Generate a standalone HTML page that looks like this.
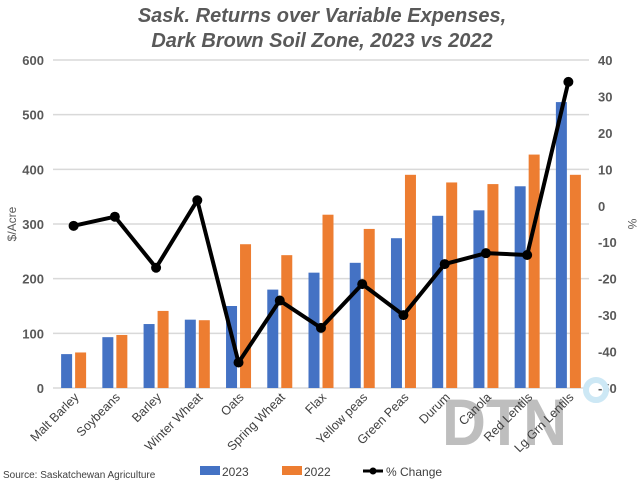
<!DOCTYPE html>
<html><head><meta charset="utf-8"><style>
body{margin:0;background:#fff;}
svg{display:block;font-family:"Liberation Sans",sans-serif;}
</style></head><body>
<svg id="c" width="640" height="480" viewBox="0 0 640 480">
<text x="322" y="22" text-anchor="middle" font-size="20" font-weight="bold" font-style="italic" fill="#595959">Sask. Returns over Variable Expenses,</text>
<text x="322" y="47" text-anchor="middle" font-size="20" font-weight="bold" font-style="italic" fill="#595959">Dark Brown Soil Zone, 2023 vs 2022</text>
<g id="grid"></g>
<text x="442" y="445" font-size="66" font-weight="bold" fill="#b3b3b3" opacity="0.85" textLength="125" lengthAdjust="spacingAndGlyphs">DTN</text>
<circle cx="596" cy="390" r="10" fill="none" stroke="#cde8f5" stroke-width="6"/>
<g id="bars"></g><g id="line"></g><g id="xl"></g>
<text transform="translate(16,224) rotate(-90)" text-anchor="middle" font-size="12" fill="#595959">$/Acre</text>
<text transform="translate(628,224) rotate(90)" text-anchor="middle" font-size="12" fill="#595959">%</text>
<text x="3" y="478" font-size="10" fill="#404040">Source: Saskatchewan Agriculture</text>
<g>
<rect x="200" y="466" width="20" height="9" fill="#4472c4"/>
<text x="222" y="476" font-size="12" fill="#404040">2023</text>
<rect x="282" y="466" width="20" height="9" fill="#ed7d31"/>
<text x="304" y="476" font-size="12" fill="#404040">2022</text>
<line x1="363" y1="471" x2="383" y2="471" stroke="#000" stroke-width="3"/>
<circle cx="373" cy="471" r="3.5" fill="#000"/>
<text x="386" y="476" font-size="12" fill="#404040">% Change</text>
</g>
</svg>
<script>
const categories=["Malt Barley","Soybeans","Barley","Winter Wheat","Oats","Spring Wheat","Flax","Yellow peas","Green Peas","Durum","Canola","Red Lentils","Lg Grn Lentils"];
const values2023=[62,93,117,125,150,180,211,229,274,315,325,369,523];
const values2022=[65,97,141,124,263,243,317,291,390,376,373,427,390];
const pctChange=[-5.5,-3,-17,1.5,-43,-26,-33.5,-21.5,-30,-16,-13,-13.5,34];
const leftTicks=[0,100,200,300,400,500,600];
const rightTicks=[40,30,20,10,0,-10,-20,-30,-40,-50];
const NS="http://www.w3.org/2000/svg";
const X0=53,X1=589,YT=60,YB=388;
const bw=(X1-X0)/categories.length;
const xc=i=>X0+bw*(i+0.5);
const yL=v=>YB-(v-0)/(600-0)*(YB-YT);
const yR=v=>YB-(v+50)/(90)*(YB-YT);
function mk(t,a,p){const e=document.createElementNS(NS,t);for(const k in a)e.setAttribute(k,a[k]);p.appendChild(e);return e;}
const grid=document.getElementById('grid');
leftTicks.forEach(v=>{
 const l=mk('line',{x1:X0,x2:X1,y1:yL(v),y2:yL(v),stroke:'#d9d9d9','stroke-width':1.5},grid);
 
 
 const t=mk('text',{x:44,y:yL(v)+5,'text-anchor':'end','font-size':13,'font-weight':'bold',fill:'#595959'},grid);
 t.textContent=v;
 
 
});
rightTicks.forEach(v=>{
 const t=mk('text',{x:598,y:yR(v)+5,'font-size':13,'font-weight':'bold',fill:'#595959'},grid);
 t.textContent=v;
 
 
});
const bars=document.getElementById('bars');
categories.forEach((c,i)=>{
 const b1=mk('rect',{x:xc(i)-12.5,y:yL(values2023[i]),width:11,height:yL(0)-yL(values2023[i]),fill:'#4472c4'},bars);
 
 
 const b2=mk('rect',{x:xc(i)+1.5,y:yL(values2022[i]),width:11,height:yL(0)-yL(values2022[i]),fill:'#ed7d31'},bars);
 
 
 const t=mk('text',{transform:`translate(${xc(i)+6},${YB+10}) rotate(-45)`,'text-anchor':'end','font-size':12.5,fill:'#404040'},document.getElementById('xl'));
 t.textContent=c;
 
 
});
const lg=document.getElementById('line');
const pl=mk('polyline',{points:pctChange.map((v,i)=>xc(i)+','+yR(v)).join(' '),fill:'none',stroke:'#000','stroke-width':4,'stroke-linejoin':'round'},lg);


pctChange.forEach((v,i)=>{
 const c=mk('circle',{cx:xc(i),cy:yR(v),r:5,fill:'#000'},lg);
 
 
});
</script>
</body></html>
